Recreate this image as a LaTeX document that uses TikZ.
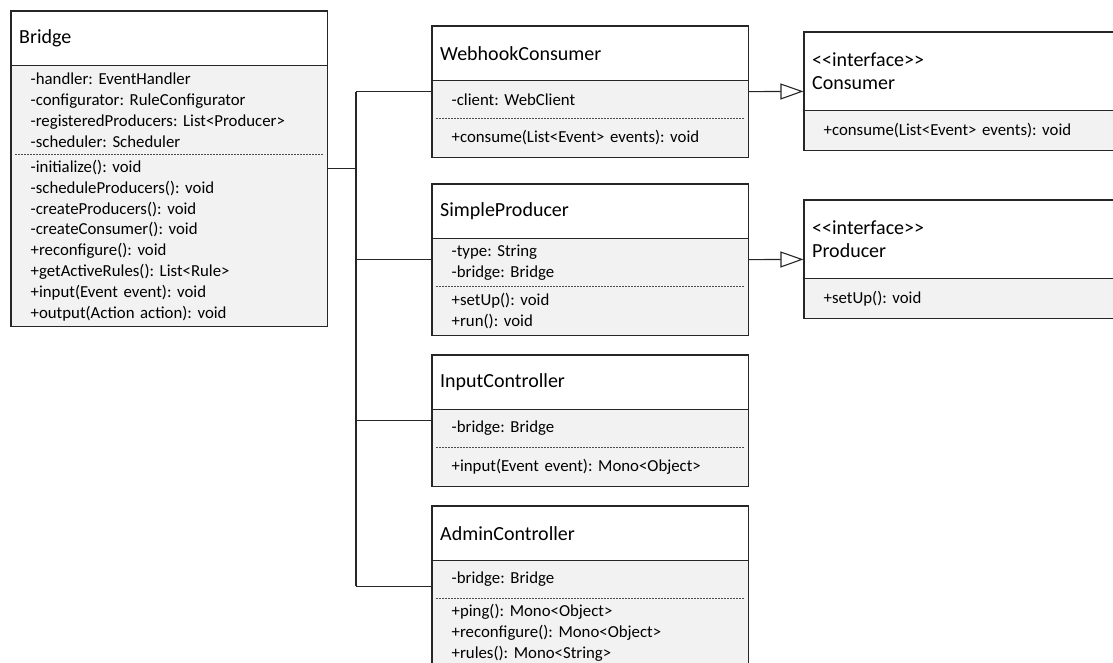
\documentclass[tikz,border=0pt]{standalone}
\usepackage{fontspec}
\setmainfont{Carlito}
\frenchspacing
\usetikzlibrary{arrows.meta,fit,positioning}
\begin{document}
\begin{tikzpicture}[
        x=1pt, y=-1pt, % pixel coordinates, top left origin
        head/.style = {anchor=north west, minimum width=316pt, text width=300pt, inner xsep=8pt, inner ysep=0pt,
            align=left, font=\fontsize{20}{23.5}\selectfont},
        part/.style = {anchor=north west, fill=black!5, minimum width=316pt, text width=277pt, inner xsep=19.5pt,
            inner ysep=0pt, align=left, font=\fontsize{16.8}{20.8}\selectfont},
        whole/.style = {draw=black!85, line width=1.1pt, inner sep=0pt}, % outline of a class
        wire/.style = {draw=black!85, line width=1.1pt},
        dots/.style = {draw=black!70, line width=0.8pt, dash pattern=on 2pt off 1pt, shorten <=4pt, shorten >=4pt},
        impl/.style = {-{Triangle[open, length=23pt, width=16pt, fill=white]}},
    ]
    \useasboundingbox (0,0) rectangle (1113,662);

    % Bridge
    \node[head, minimum height=54pt] (bh) at (11,11) {Bridge};
    \node[part, minimum height=89pt, below=0pt of bh] (ba) {-handler: EventHandler\\-configurator: RuleConfigurator\\-registeredProducers: List<Producer>\\-scheduler: Scheduler};
    \node[part, minimum height=171pt, below=0pt of ba] (bm) {-initialize(): void\\-scheduleProducers(): void\\-createProducers(): void\\-createConsumer(): void\\+reconfigure(): void\\+getActiveRules(): List<Rule>\\+input(Event event): void\\+output(Action action): void};
    \node[whole, fit=(bh)(bm)] (bridge) {};

    % WebhookConsumer
    \node[head, minimum height=54pt] (wh) at (432,26) {WebhookConsumer};
    \node[part, minimum height=38pt, below=0pt of wh] (wa) {-client: WebClient};
    \node[part, minimum height=38pt, below=0pt of wa] (wm) {+consume(List<Event> events): void};
    \node[whole, fit=(wh)(wm)] (wcon) {};

    % SimpleProducer
    \node[head, minimum height=54pt] (sh) at (432,184) {SimpleProducer};
    \node[part, minimum height=48pt, below=0pt of sh] (sa) {-type: String\\-bridge: Bridge};
    \node[part, minimum height=48pt, below=0pt of sa] (sm) {+setUp(): void\\+run(): void};
    \node[whole, fit=(sh)(sm)] (sprod) {};

    % InputController
    \node[head, minimum height=54pt] (ih) at (432,355) {InputController};
    \node[part, minimum height=38pt, below=0pt of ih] (ia) {-bridge: Bridge};
    \node[part, minimum height=38pt, below=0pt of ia] (im) {+input(Event event): Mono<Object>};
    \node[whole, fit=(ih)(im)] (inctl) {};

    % AdminController
    \node[head, minimum height=54pt] (ah) at (432,506) {AdminController};
    \node[part, minimum height=38pt, below=0pt of ah] (aa) {-bridge: Bridge};
    \node[part, minimum height=67pt, below=0pt of aa] (am) {+ping(): Mono<Object>\\+reconfigure(): Mono<Object>\\+rules(): Mono<String>};
    \node[whole, fit=(ah)(am)] (admin) {};

    % interfaces
    \node[head, minimum height=78pt] (ch) at (804,32) {<\kern0pt<interface>\kern0pt>\\Consumer};
    \node[part, minimum height=40pt, below=0pt of ch] (cm) {+consume(List<Event> events): void};
    \node[whole, fit=(ch)(cm)] (cons) {};

    \node[head, minimum height=78pt] (ph) at (804,200) {<\kern0pt<interface>\kern0pt>\\Producer};
    \node[part, minimum height=40pt, below=0pt of ph] (pm) {+setUp(): void};
    \node[whole, fit=(ph)(pm)] (prod) {};

    % compartment lines
    \foreach \h in {bh, wh, sh, ih, ah, ch, ph}
        \draw[wire] (\h.south west) -- (\h.south east);
    \foreach \a in {ba, wa, sa, ia, aa}
        \draw[dots] (\a.south west) -- (\a.south east);

    % Bridge to its users
    \coordinate (bus) at ([xshift=28pt]bridge.east);
    \draw[wire] (bridge.east) -- (bus);
    \draw[wire] (bus |- wcon.west) -- (bus |- admin.west);
    \foreach \c in {wcon, sprod, inctl, admin}
        \draw[wire] (bus |- \c.west) -- (\c.west);

    % realizations
    \draw[wire, impl] (wcon.east) -- (cons.west);
    \draw[wire, impl] (sprod.east) -- (prod.west);
\end{tikzpicture}
\end{document}
